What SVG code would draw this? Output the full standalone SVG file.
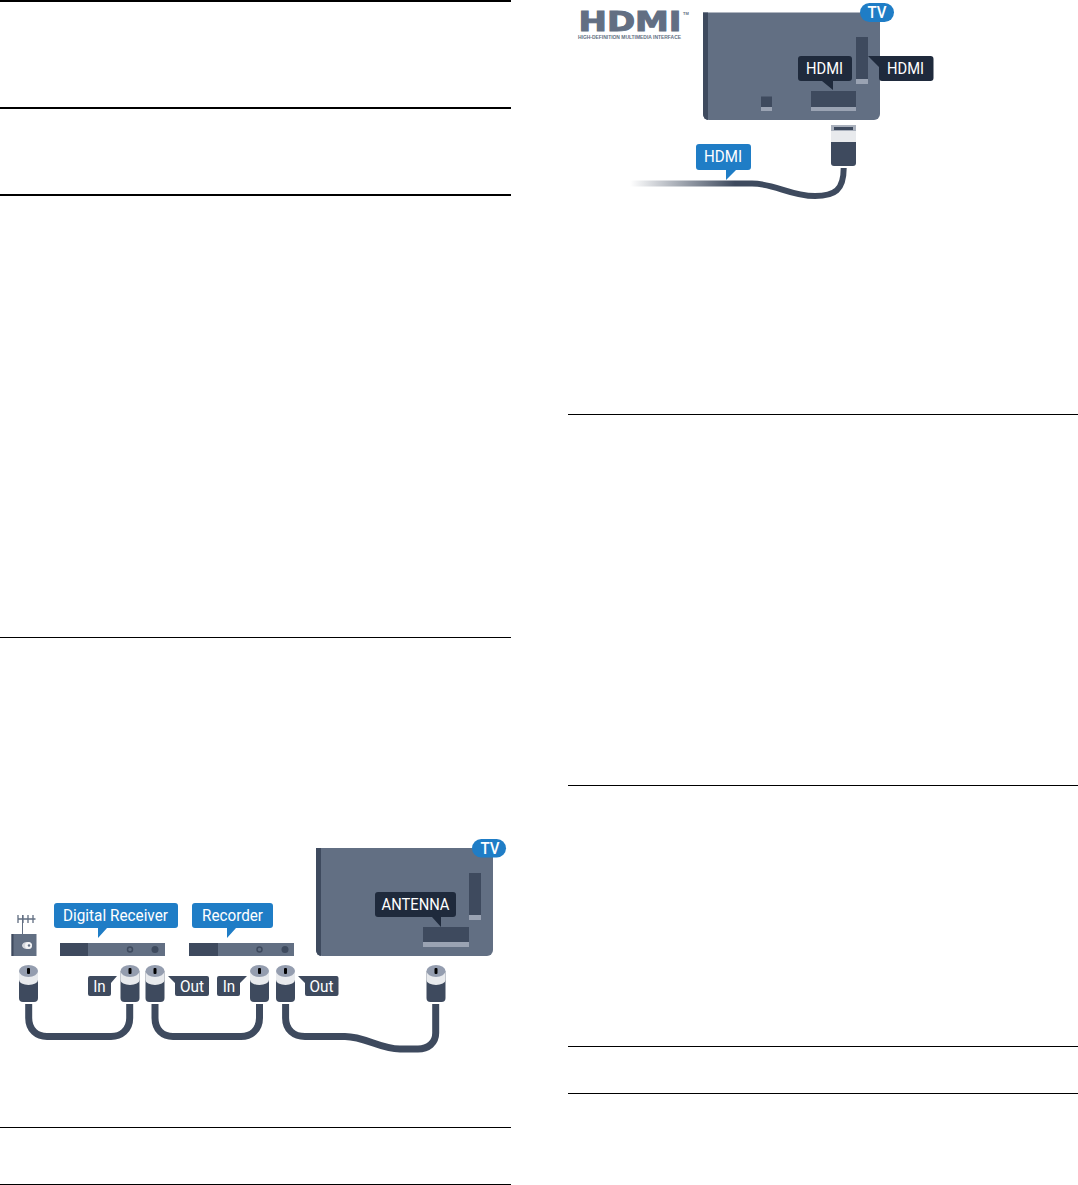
<svg xmlns="http://www.w3.org/2000/svg" width="1078" height="1185" viewBox="0 0 1078 1185">
<style>
.t{font-family:"Roboto","Liberation Sans",sans-serif;fill:#fff;text-anchor:middle;font-size:16.500px}
.b{font-weight:500}
.rule{stroke:#000;fill:none}
.thin{stroke-width:1}
.thick{stroke-width:2}
.blue{fill:#1f7dc6}
.navy{fill:#1f2a3c}
.slate{fill:#3e4a5e}
.tv{fill:#626f83}
.edge{fill:#9aa3b3}
.cable{fill:none;stroke:#3e4a5e;stroke-width:7}
</style>
<defs>
<linearGradient id="fade" gradientUnits="userSpaceOnUse" x1="630" y1="0" x2="735" y2="0">
<stop offset="0" stop-color="#3e4a5e" stop-opacity="0"/>
<stop offset="1" stop-color="#3e4a5e"/>
</linearGradient>
<g id="coax">
<path d="M-9.500 6V33a4 4 0 0 0 4 4H5.500a4 4 0 0 0 4-4V6z" class="slate"/>
<path d="M-9.500 6V15a9.500 5 0 0 0 19 0V6z" fill="#e8eaed"/>
<ellipse cx="0" cy="6" rx="9.500" ry="6" fill="#949daf"/>
<rect x="-1.500" y="3" width="3" height="6" rx="1"/>
</g>
</defs>
<rect width="1078" height="1185" fill="#fff"/>
<g id="rules">
<line class="rule thick" x1="0" x2="511" y1="1" y2="1"/>
<line class="rule thick" x1="0" x2="511" y1="108" y2="108"/>
<line class="rule thick" x1="0" x2="511" y1="195" y2="195"/>
<line class="rule thin" x1="0" x2="511" y1="637.500" y2="637.500"/>
<line class="rule thin" x1="0" x2="511" y1="1127.500" y2="1127.500"/>
<line class="rule thin" x1="0" x2="511" y1="1184.500" y2="1184.500"/>
<line class="rule thin" x1="568" x2="1078" y1="414.500" y2="414.500"/>
<line class="rule thin" x1="568" x2="1078" y1="785.500" y2="785.500"/>
<line class="rule thin" x1="568" x2="1078" y1="1046.500" y2="1046.500"/>
<line class="rule thin" x1="568" x2="1078" y1="1093.500" y2="1093.500"/>
</g>
<g id="connectors">
<path class="cable" d="M28.700 1004V1018C28.700 1030 37 1036.500 47 1036.500H111C121 1036.500 129.700 1030 129.700 1018V1004"/>
<path class="cable" d="M155 1004V1018C155 1030 163 1036.500 173 1036.500H241C251 1036.500 259.500 1030 259.500 1018V1004"/>
<path class="cable" d="M285.600 1004V1018C285.600 1030 294 1036.500 305 1036.500H345C365 1036.500 380 1049 400 1049H418C428 1049 435.700 1043 435.700 1033V1004"/>
<path d="M630 183.500H752C775 183.500 790 196 815 196C835 196 843.700 190 843.700 168" fill="none" stroke="#3e4a5e" stroke-width="6"/>
<rect x="630" y="180" width="105" height="7" fill="#fff"/>
<rect x="630" y="180.500" width="105" height="6" fill="url(#fade)"/>
</g>
<g id="tv-antenna">
<path class="tv" d="M316 848H493V950a6 6 0 0 1-6 6H322a6 6 0 0 1-6-6z"/>
<path class="slate" d="M316 848H321V956a5 6 0 0 1-5-6z"/>
<rect class="slate" x="469" y="873" width="12" height="42"/>
<rect class="edge" x="469" y="915" width="12" height="5"/>
<rect class="slate" x="423" y="927" width="46" height="15"/>
<rect class="edge" x="423" y="942" width="46" height="5"/>
</g>
<g id="badge-antenna"><rect class="blue" x="472" y="839" width="34" height="18.500" rx="9.250"/><text class="t b" x="490" y="854" textLength="19" lengthAdjust="spacingAndGlyphs">TV</text></g>
<g id="label-antenna"><path class="navy" d="M378 892H453a3 3 0 0 1 3 3V914a3 3 0 0 1-3 3H441V927L432 917H378a3 3 0 0 1-3-3V895a3 3 0 0 1 3-3z"/><text class="t" x="415.500" y="910" textLength="68" lengthAdjust="spacingAndGlyphs">ANTENNA</text></g>
<g id="wall-socket">
<path d="M22.500 915V934" stroke="#626f83" stroke-width="1" fill="none"/>
<path d="M17.500 919H35.500M18 915V923M23 915V923M28 915V923M33 915V923" stroke="#626f83" stroke-width="1.300" fill="none"/>
<rect class="tv" x="11.500" y="934" width="25" height="22"/>
<rect class="slate" x="11.500" y="934" width="2" height="22"/>
<ellipse cx="27" cy="945.500" rx="5" ry="3.500" fill="#d5d8de"/><circle cx="28.500" cy="945.500" r="3.500" fill="#f2f3f5"/><circle cx="29" cy="945.500" r="1.200" fill="#626f83"/>
</g>
<g id="digital-receiver">
<rect class="tv" x="60" y="943" width="105" height="13"/>
<rect class="slate" x="60" y="943" width="28" height="13"/>
<circle cx="130" cy="949.500" r="2.500" fill="none" stroke="#3e4a5e" stroke-width="1.500"/>
<circle cx="155" cy="949.500" r="3.500" class="slate"/>
</g>
<g id="label-digital-receiver"><path class="blue" d="M57 903H175a3 3 0 0 1 3 3V925a3 3 0 0 1-3 3H107L98 938V928H57a3 3 0 0 1-3-3V906a3 3 0 0 1 3-3z"/><text class="t" x="115.500" y="921" textLength="105" lengthAdjust="spacingAndGlyphs">Digital Receiver</text></g>
<g id="recorder">
<rect class="tv" x="189" y="943" width="105" height="13"/>
<rect class="slate" x="189" y="943" width="29" height="13"/>
<circle cx="259.500" cy="949.500" r="2.500" fill="none" stroke="#3e4a5e" stroke-width="1.500"/>
<circle cx="285" cy="949.500" r="3.500" class="slate"/>
</g>
<g id="label-recorder"><path class="blue" d="M195 903H270a3 3 0 0 1 3 3V925a3 3 0 0 1-3 3H236L227 938V928H195a3 3 0 0 1-3-3V906a3 3 0 0 1 3-3z"/><text class="t" x="232.500" y="921" textLength="61" lengthAdjust="spacingAndGlyphs">Recorder</text></g>
<g id="plugs">
<use href="#coax" x="28.500" y="965"/>
<use href="#coax" x="130" y="965"/>
<use href="#coax" x="155" y="965"/>
<use href="#coax" x="259.500" y="965"/>
<use href="#coax" x="285.500" y="965"/>
<use href="#coax" x="436" y="965"/>
</g>
<g id="label-in-1"><path class="slate" d="M90 976H117L111 983V994a2 2 0 0 1-2 2H90a2 2 0 0 1-2-2V978a2 2 0 0 1 2-2z"/><text class="t" x="99.500" y="991.700" textLength="12.500" lengthAdjust="spacingAndGlyphs">In</text></g>
<g id="label-out-1"><path class="slate" d="M168 976H207a2 2 0 0 1 2 2V994a2 2 0 0 1-2 2H177a2 2 0 0 1-2-2V983z"/><text class="t" x="192" y="991.700" textLength="24" lengthAdjust="spacingAndGlyphs">Out</text></g>
<g id="label-in-2"><path class="slate" d="M219 976H247L240 983V994a2 2 0 0 1-2 2H219a2 2 0 0 1-2-2V978a2 2 0 0 1 2-2z"/><text class="t" x="229" y="991.700" textLength="12.500" lengthAdjust="spacingAndGlyphs">In</text></g>
<g id="label-out-2"><path class="slate" d="M298 976H336.500a2 2 0 0 1 2 2V994a2 2 0 0 1-2 2H307a2 2 0 0 1-2-2V983z"/><text class="t" x="321.500" y="991.700" textLength="24" lengthAdjust="spacingAndGlyphs">Out</text></g>
<g id="hdmi-logo">
<text x="578.500" y="31" font-family="'DejaVu Sans',sans-serif" font-weight="700" font-size="26" fill="#626f83" stroke="#626f83" stroke-width="1" textLength="103" lengthAdjust="spacingAndGlyphs">HDMI</text>
<text x="683" y="15" font-family="'Liberation Sans',sans-serif" font-weight="700" font-size="4" fill="#626f83">TM</text>
<text x="578" y="39" font-family="'Liberation Sans',sans-serif" font-weight="700" font-size="4.500" fill="#626f83" textLength="103" lengthAdjust="spacingAndGlyphs">HIGH-DEFINITION MULTIMEDIA INTERFACE</text>
</g>
<g id="tv-hdmi">
<path class="tv" d="M703 12.500H880V114a6 6 0 0 1-6 6H709a6 6 0 0 1-6-6z"/>
<path class="slate" d="M703 12.500H708V120a5 6 0 0 1-5-6z"/>
<rect class="slate" x="761" y="96.500" width="11" height="10.500"/>
<rect class="edge" x="761" y="107" width="11" height="4"/>
<rect class="slate" x="856" y="37" width="12" height="42"/>
<rect class="edge" x="856" y="79" width="12" height="5"/>
<rect class="slate" x="811" y="91" width="45" height="16"/>
<rect class="edge" x="811" y="107" width="45" height="4"/>
</g>
<g id="badge-hdmi"><rect class="blue" x="860" y="3" width="34" height="19" rx="9.500"/><text class="t b" x="877" y="17.700" textLength="19" lengthAdjust="spacingAndGlyphs">TV</text></g>
<g id="label-hdmi-bottom"><path class="navy" d="M801 56H849a3 3 0 0 1 3 3V78a3 3 0 0 1-3 3H833V90L822 81H801a3 3 0 0 1-3-3V59a3 3 0 0 1 3-3z"/><text class="t" x="824.500" y="73.500" textLength="37" lengthAdjust="spacingAndGlyphs">HDMI</text></g>
<g id="label-hdmi-side"><path class="navy" d="M868 56H930.500a3 3 0 0 1 3 3V78a3 3 0 0 1-3 3H882a3 3 0 0 1-3-3V67z"/><text class="t" x="905.500" y="73.500" textLength="37" lengthAdjust="spacingAndGlyphs">HDMI</text></g>
<g id="hdmi-plug">
<rect x="831" y="125" width="25" height="6" fill="#aab1bd"/>
<rect x="834" y="127" width="19" height="3" class="slate"/>
<rect x="831" y="131" width="25" height="11" fill="#e8eaed"/>
<path class="slate" d="M831 142H856V163a3 3 0 0 1-3 3H834a3 3 0 0 1-3-3z"/>
</g>
<g id="label-hdmi-cable"><path class="blue" d="M699 144H748a3 3 0 0 1 3 3V167a3 3 0 0 1-3 3H736L726 180V170H699a3 3 0 0 1-3-3V147a3 3 0 0 1 3-3z"/><text class="t" x="723" y="162" textLength="38" lengthAdjust="spacingAndGlyphs">HDMI</text></g>
</svg>
